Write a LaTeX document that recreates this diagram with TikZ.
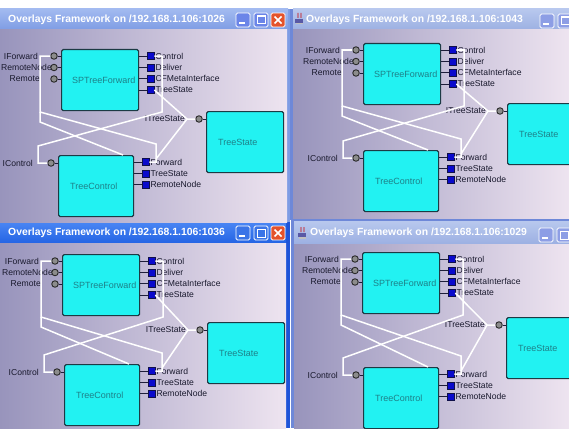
\documentclass[tikz,border=0pt]{standalone}
\usepackage{fontspec}
\setmainfont{Liberation Sans}
\usetikzlibrary{calc}

\definecolor{boxcyan}{HTML}{22F2F2}
\definecolor{compedge}{HTML}{1C3A44}
\definecolor{comptxt}{HTML}{1E8088}
\definecolor{portgrey}{HTML}{8C8C8C}
\definecolor{portedge}{HTML}{2A2A2A}
\definecolor{rblue}{HTML}{0A0ACC}
\definecolor{redge}{HTML}{10104A}
\definecolor{labtxt}{HTML}{1A1A2E}
\definecolor{stubcol}{HTML}{1E1E3A}
\definecolor{bgleft}{HTML}{9894BC}
\definecolor{bgright}{HTML}{EEE4F0}
\definecolor{acttitle}{HTML}{2464E4}
\definecolor{acttitlehi}{HTML}{4A86F4}
\definecolor{semititle}{HTML}{7E9CE4}
\definecolor{semititlehi}{HTML}{A2BAF0}
\definecolor{inttitle}{HTML}{9CB0E2}
\definecolor{inttitlehi}{HTML}{B8C8EE}
\definecolor{actframe}{HTML}{1E54D8}
\definecolor{intframe}{HTML}{6E88D8}
\definecolor{closered}{HTML}{E4532C}

\tikzset{
  comp/.style={draw=compedge, line width=1.2pt, fill=boxcyan, rounded corners=1.5pt, minimum width=77pt, minimum height=61pt, anchor=north west, inner sep=0pt},
  compname/.style={anchor=west, inner sep=0pt, text=comptxt, font=\fontsize{9}{9}\selectfont},
  iport/.style={circle, draw=portedge, fill=portgrey, line width=0.9pt, minimum size=6.5pt, inner sep=0pt},
  rport/.style={rectangle, draw=redge, fill=rblue, line width=0.6pt, minimum size=7pt, inner sep=0pt},
  plabel/.style={inner sep=0pt, text=labtxt, font=\fontsize{8.6}{9}\selectfont},
  wire/.style={draw=white, line width=1.5pt, line join=miter},
  stub/.style={draw=stubcol, line width=0.9pt},
  wintitle/.style={anchor=west, inner sep=0pt, text=white, font=\bfseries\fontsize{10.4}{11}\selectfont},
  btn/.style={draw=white, line width=0.8pt, rounded corners=1.5pt},
}

% #1 prefix, #2 sx, #3 sy (SPTreeForward), #4 cx, #5 cy (TreeControl), #6 tx, #7 ty (TreeState)
\newcommand\overlaywin[7]{%
  \node[comp] (#1spf) at (#2,#3) {};
  \node[compname] (#1spfn) at ([xshift=11pt]#1spf.west) {SPTreeForward};
  \node[comp] (#1ts) at (#6,#7) {};
  \node[compname] (#1tsn) at ([xshift=12pt]#1ts.west) {TreeState};
  \node[comp, minimum width=75pt] (#1tc) at (#4,#5) {};
  \node[compname] (#1tcn) at ([xshift=12pt]#1tc.west) {TreeControl};
  \node[plabel, anchor=east] (#1lif) at (#2-23,#3+7) {IForward};
  \node[plabel, anchor=east] (#1lirn) at (#2-9,#3+18.5) {RemoteNode};
  \node[plabel, anchor=east] (#1lir) at (#2-21,#3+30) {Remote};
  \node[iport] (#1pif) at (#2-7,#3+7) {};
  \node[iport] (#1pirn) at (#2-7,#3+18.5) {};
  \node[iport] (#1pir) at (#2-7,#3+30) {};
  \foreach \p in {pif,pirn,pir}{\draw[stub] (#1\p.east) -- (#1\p.east -| #1spf.west);}
  \node[rport] (#1rc) at (#2+89.5,#3+7) {};
  \node[rport] (#1rd) at (#2+89.5,#3+18.3) {};
  \node[rport] (#1rm) at (#2+89.5,#3+29.6) {};
  \node[rport] (#1rt) at (#2+89.5,#3+41) {};
  \foreach \p in {rc,rd,rm,rt}{\draw[stub] (#1\p.west) -- (#1\p.west -| #1spf.east);}
  \node[plabel, anchor=west] (#1lrc) at ([xshift=1pt]#1rc.east) {Control};
  \node[plabel, anchor=west] (#1lrd) at ([xshift=1pt]#1rd.east) {Deliver};
  \node[plabel, anchor=west] (#1lrm) at ([xshift=1pt]#1rm.east) {CFMetaInterface};
  \node[plabel, anchor=west] (#1lrt) at ([xshift=1pt]#1rt.east) {TreeState};
  \node[plabel, anchor=east] (#1lits) at (#6-21,#7+8) {ITreeState};
  \node[iport] (#1pits) at (#6-7,#7+8) {};
  \draw[stub] (#1pits.east) -- (#1pits.east -| #1ts.west);
  \node[plabel, anchor=east] (#1lic) at (#4-25,#5+8) {IControl};
  \node[iport] (#1pic) at (#4-7,#5+8) {};
  \draw[stub] (#1pic.east) -- (#1pic.east -| #1tc.west);
  \node[rport] (#1tf) at (#4+87.5,#5+7) {};
  \node[rport] (#1tt) at (#4+87.5,#5+18.3) {};
  \node[rport] (#1tr) at (#4+87.5,#5+29.6) {};
  \foreach \p in {tf,tt,tr}{\draw[stub] (#1\p.west) -- (#1\p.west -| #1tc.east);}
  \node[plabel, anchor=west] (#1ltf) at ([xshift=1pt]#1tf.east) {Forward};
  \node[plabel, anchor=west] (#1ltt) at ([xshift=1pt]#1tt.east) {TreeState};
  \node[plabel, anchor=west] (#1ltr) at ([xshift=1pt]#1tr.east) {RemoteNode};
  \coordinate (#1j) at (#6-19,#7+8);
  \coordinate (#1tctop) at (#4+65,#5);
  \coordinate (#1fork) at (#2-21,#3+63);
  \draw[wire] (#1pif.west) -- (#2-21,#3+7) -- (#1fork) -- (#4+98,#5-11) -- (#4+98,#5+7) -- (#1tf.east);
  \draw[wire] (#1fork) -- (#2-21,#3+73) -- (#1tctop);
  \draw[wire] (#1rc.east) -- (#2+101,#3+7) -- (#2+101,#3+63) -- (#4-20,#5-9) -- (#4-20,#5+8) -- (#1pic.west);
  \draw[wire] (#1rt.east) -- (#1j) -- (#1pits.west);
  \draw[wire] (#1j) -- (#4+98,#5+4);
}

% title bar buttons: #1 x of minimize, #2 top y, #3 colour, #4 close colour
\newcommand\winbuttons[4]{%
  \fill[#3] (#1,#2) rectangle ++(14,14);
  \draw[btn] (#1,#2) rectangle ++(14,14);
  \fill[white] (#1+3,#2+9) rectangle ++(6,2.2);
  \fill[#3] (#1+18,#2) rectangle ++(14,14);
  \draw[btn] (#1+18,#2) rectangle ++(14,14);
  \draw[white, line width=1pt] (#1+21,#2+3) rectangle ++(8,8);
  \draw[white, line width=1.8pt] (#1+21,#2+3.5) -- ++(8,0);
  \fill[#4] (#1+35,#2) rectangle ++(14,14);
  \draw[btn] (#1+35,#2) rectangle ++(14,14);
  \draw[white, line width=1.6pt] (#1+38.5,#2+3.5) -- ++(7,7) (#1+45.5,#2+3.5) -- ++(-7,7);
}

\newcommand\javaicon[2]{%
  \fill[gray!70!blue] (#1,#2+6) rectangle ++(8,4);
  \fill[gray!50] (#1+0.5,#2+10) rectangle ++(7,1.5);
  \draw[red!80!black, line width=0.8pt] (#1+3,#2+5) .. controls (#1+1.5,#2+3) and (#1+4.5,#2+2) .. (#1+3,#2);
  \draw[red!80!black, line width=0.8pt] (#1+6,#2+5) .. controls (#1+4.5,#2+3) and (#1+7.5,#2+2) .. (#1+6,#2);
}

\begin{document}
\begin{tikzpicture}[x=1pt, y=-1pt]
\useasboundingbox (0,0) rectangle (569,428);
\fill[white] (0,0) rectangle (569,428);
% ---------- window frames ----------
\fill[semititle] (0,9) rectangle (290,222);
\fill[intframe] (290,9) rectangle (569,220);
\fill[actframe] (0,222) rectangle (290,428);
\fill[intframe] (291,220) rectangle (569,428);
% title bars
\shade[top color=semititlehi, bottom color=semititle] (0,9) rectangle (288,30);
\shade[top color=inttitlehi, bottom color=inttitle] (293,9) rectangle (569,30);
\shade[top color=acttitlehi, bottom color=acttitle] (0,222) rectangle (286,243);
\shade[top color=inttitlehi, bottom color=inttitle] (294,221) rectangle (569,244);
% contents
\shade[left color=bgleft, right color=bgright] (0,30) rectangle (287,222);
\shade[left color=bgleft, right color=bgright] (293,30) rectangle (569,218);
\shade[left color=bgleft, right color=bgright] (0,243) rectangle (286,428);
\shade[left color=bgleft, right color=bgright] (294,244) rectangle (569,428);
% titles
\node[wintitle] (t1) at (8,19.5) {Overlays Framework on /192.168.1.106:1026};
\node[wintitle] (t2) at (306,19.5) {Overlays Framework on /192.168.1.106:1043};
\node[wintitle] (t3) at (8,232.5) {Overlays Framework on /192.168.1.106:1036};
\node[wintitle] (t4) at (310,233) {Overlays Framework on /192.168.1.106:1029};
\javaicon{295}{13}
\javaicon{298}{227}
\winbuttons{236}{13}{semititle!85!blue}{closered}
\winbuttons{236}{226}{acttitle!90!white}{closered}
\begin{scope}
\clip (293,9) rectangle (569,30);
\winbuttons{540}{14}{inttitle!90!blue}{inttitle}
\end{scope}
\begin{scope}
\clip (294,221) rectangle (569,244);
\winbuttons{539}{228}{inttitle!90!blue}{inttitle}
\end{scope}
% ---------- window contents ----------
\begin{scope}
\clip (0,30) rectangle (287,222);
\overlaywin{a}{61}{49}{58}{155}{206}{111}
\end{scope}
\begin{scope}
\clip (293,30) rectangle (569,218);
\overlaywin{b}{363}{43}{363}{150}{507}{103}
\end{scope}
\begin{scope}
\clip (0,243) rectangle (286,428);
\overlaywin{c}{62}{254}{64}{364}{207}{322}
\end{scope}
\begin{scope}
\clip (294,244) rectangle (569,428);
\overlaywin{d}{362}{252}{363}{367}{506}{317}
\end{scope}
\end{tikzpicture}
\end{document}
